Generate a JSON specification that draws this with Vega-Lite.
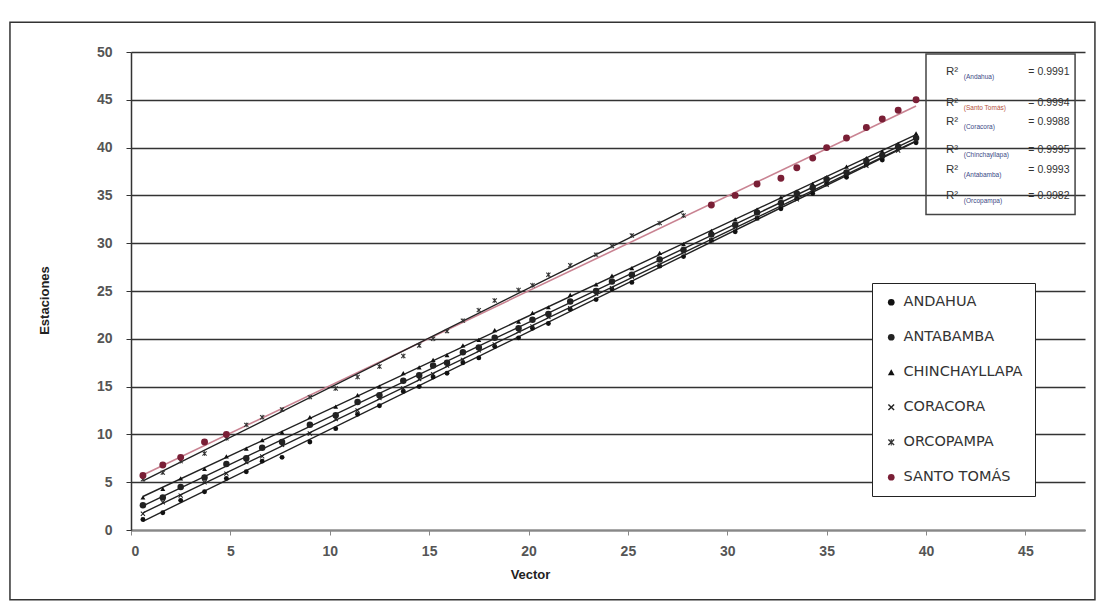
{
  "$schema": "https://vega.github.io/schema/vega-lite/v6.json",
  "width": 954,
  "height": 478,
  "autosize": {"type": "none"},
  "padding": {"left": 131, "top": 52, "right": 14, "bottom": 73},
  "background": "white",
  "config": {
    "font": "Liberation Sans",
    "view": {"stroke": null},
    "legend": {
      "orient": "none",
      "legendX": 741,
      "legendY": 231,
      "fillColor": "white",
      "strokeColor": "#222",
      "padding": 12,
      "rowPadding": 20,
      "labelFont": "DejaVu Sans",
      "labelFontSize": 14.5,
      "labelColor": "#333",
      "symbolSize": 45,
      "symbolOffset": 0,
      "labelOffset": 5,
      "symbolStrokeWidth": 0
    }
  },
  "datasets": {
    "pts": [
      {"series": "ANDAHUA", "x": 0.6, "y": 1.1}, {"series": "ANDAHUA", "x": 1.6, "y": 1.8}, {"series": "ANDAHUA", "x": 2.5, "y": 3.1}, {"series": "ANDAHUA", "x": 3.7, "y": 4.0}, {"series": "ANDAHUA", "x": 4.8, "y": 5.4}, {"series": "ANDAHUA", "x": 5.8, "y": 6.1}, {"series": "ANDAHUA", "x": 6.6, "y": 7.2}, {"series": "ANDAHUA", "x": 7.6, "y": 7.6}, {"series": "ANDAHUA", "x": 9.0, "y": 9.2}, {"series": "ANDAHUA", "x": 10.3, "y": 10.6},
      {"series": "ANDAHUA", "x": 11.4, "y": 12.1}, {"series": "ANDAHUA", "x": 12.5, "y": 13.0}, {"series": "ANDAHUA", "x": 13.7, "y": 14.5}, {"series": "ANDAHUA", "x": 14.5, "y": 15.0}, {"series": "ANDAHUA", "x": 15.2, "y": 16.0}, {"series": "ANDAHUA", "x": 15.9, "y": 16.4}, {"series": "ANDAHUA", "x": 16.7, "y": 17.5}, {"series": "ANDAHUA", "x": 17.5, "y": 18.0}, {"series": "ANDAHUA", "x": 18.3, "y": 19.2}, {"series": "ANDAHUA", "x": 19.5, "y": 20.1},
      {"series": "ANDAHUA", "x": 20.2, "y": 21.1}, {"series": "ANDAHUA", "x": 21.0, "y": 21.6}, {"series": "ANDAHUA", "x": 22.1, "y": 23.1}, {"series": "ANDAHUA", "x": 23.4, "y": 24.1}, {"series": "ANDAHUA", "x": 24.2, "y": 25.2}, {"series": "ANDAHUA", "x": 25.2, "y": 25.9}, {"series": "ANDAHUA", "x": 26.6, "y": 27.6}, {"series": "ANDAHUA", "x": 27.8, "y": 28.6}, {"series": "ANDAHUA", "x": 29.2, "y": 30.3}, {"series": "ANDAHUA", "x": 30.4, "y": 31.2},
      {"series": "ANDAHUA", "x": 31.5, "y": 32.6}, {"series": "ANDAHUA", "x": 32.7, "y": 33.6}, {"series": "ANDAHUA", "x": 33.5, "y": 34.7}, {"series": "ANDAHUA", "x": 34.3, "y": 35.2}, {"series": "ANDAHUA", "x": 35.0, "y": 36.2}, {"series": "ANDAHUA", "x": 36.0, "y": 36.9}, {"series": "ANDAHUA", "x": 37.0, "y": 38.2}, {"series": "ANDAHUA", "x": 37.8, "y": 38.7}, {"series": "ANDAHUA", "x": 38.6, "y": 39.9}, {"series": "ANDAHUA", "x": 39.5, "y": 40.5},

      {"series": "ANTABAMBA", "x": 0.6, "y": 2.6}, {"series": "ANTABAMBA", "x": 1.6, "y": 3.4}, {"series": "ANTABAMBA", "x": 2.5, "y": 4.5}, {"series": "ANTABAMBA", "x": 3.7, "y": 5.5}, {"series": "ANTABAMBA", "x": 4.8, "y": 6.9}, {"series": "ANTABAMBA", "x": 5.8, "y": 7.5}, {"series": "ANTABAMBA", "x": 6.6, "y": 8.6}, {"series": "ANTABAMBA", "x": 7.6, "y": 9.2}, {"series": "ANTABAMBA", "x": 9.0, "y": 11.0}, {"series": "ANTABAMBA", "x": 10.3, "y": 12.0},
      {"series": "ANTABAMBA", "x": 11.4, "y": 13.4}, {"series": "ANTABAMBA", "x": 12.5, "y": 14.1}, {"series": "ANTABAMBA", "x": 13.7, "y": 15.6}, {"series": "ANTABAMBA", "x": 14.5, "y": 16.2}, {"series": "ANTABAMBA", "x": 15.2, "y": 17.2}, {"series": "ANTABAMBA", "x": 15.9, "y": 17.5}, {"series": "ANTABAMBA", "x": 16.7, "y": 18.6}, {"series": "ANTABAMBA", "x": 17.5, "y": 19.1}, {"series": "ANTABAMBA", "x": 18.3, "y": 20.1}, {"series": "ANTABAMBA", "x": 19.5, "y": 21.1},
      {"series": "ANTABAMBA", "x": 20.2, "y": 22.0}, {"series": "ANTABAMBA", "x": 21.0, "y": 22.6}, {"series": "ANTABAMBA", "x": 22.1, "y": 23.9}, {"series": "ANTABAMBA", "x": 23.4, "y": 25.0}, {"series": "ANTABAMBA", "x": 24.2, "y": 26.0}, {"series": "ANTABAMBA", "x": 25.2, "y": 26.7}, {"series": "ANTABAMBA", "x": 26.6, "y": 28.3}, {"series": "ANTABAMBA", "x": 27.8, "y": 29.3}, {"series": "ANTABAMBA", "x": 29.2, "y": 30.9}, {"series": "ANTABAMBA", "x": 30.4, "y": 31.9},
      {"series": "ANTABAMBA", "x": 31.5, "y": 33.2}, {"series": "ANTABAMBA", "x": 32.7, "y": 34.2}, {"series": "ANTABAMBA", "x": 33.5, "y": 35.2}, {"series": "ANTABAMBA", "x": 34.3, "y": 35.8}, {"series": "ANTABAMBA", "x": 35.0, "y": 36.7}, {"series": "ANTABAMBA", "x": 36.0, "y": 37.4}, {"series": "ANTABAMBA", "x": 37.0, "y": 38.6}, {"series": "ANTABAMBA", "x": 37.8, "y": 39.2}, {"series": "ANTABAMBA", "x": 38.6, "y": 40.1}, {"series": "ANTABAMBA", "x": 39.5, "y": 41.0},

      {"series": "CHINCHAYLLAPA", "x": 0.6, "y": 3.4}, {"series": "CHINCHAYLLAPA", "x": 1.6, "y": 4.3}, {"series": "CHINCHAYLLAPA", "x": 2.5, "y": 5.4}, {"series": "CHINCHAYLLAPA", "x": 3.7, "y": 6.4}, {"series": "CHINCHAYLLAPA", "x": 4.8, "y": 7.7}, {"series": "CHINCHAYLLAPA", "x": 5.8, "y": 8.5}, {"series": "CHINCHAYLLAPA", "x": 6.6, "y": 9.4}, {"series": "CHINCHAYLLAPA", "x": 7.6, "y": 10.2}, {"series": "CHINCHAYLLAPA", "x": 9.0, "y": 11.8}, {"series": "CHINCHAYLLAPA", "x": 10.3, "y": 12.9},
      {"series": "CHINCHAYLLAPA", "x": 11.4, "y": 14.1}, {"series": "CHINCHAYLLAPA", "x": 12.5, "y": 15.0}, {"series": "CHINCHAYLLAPA", "x": 13.7, "y": 16.4}, {"series": "CHINCHAYLLAPA", "x": 14.5, "y": 17.0}, {"series": "CHINCHAYLLAPA", "x": 15.2, "y": 17.8}, {"series": "CHINCHAYLLAPA", "x": 15.9, "y": 18.3}, {"series": "CHINCHAYLLAPA", "x": 16.7, "y": 19.3}, {"series": "CHINCHAYLLAPA", "x": 17.5, "y": 19.9}, {"series": "CHINCHAYLLAPA", "x": 18.3, "y": 20.9}, {"series": "CHINCHAYLLAPA", "x": 19.5, "y": 21.8},
      {"series": "CHINCHAYLLAPA", "x": 20.2, "y": 22.7}, {"series": "CHINCHAYLLAPA", "x": 21.0, "y": 23.3}, {"series": "CHINCHAYLLAPA", "x": 22.1, "y": 24.6}, {"series": "CHINCHAYLLAPA", "x": 23.4, "y": 25.7}, {"series": "CHINCHAYLLAPA", "x": 24.2, "y": 26.6}, {"series": "CHINCHAYLLAPA", "x": 25.2, "y": 27.4}, {"series": "CHINCHAYLLAPA", "x": 26.6, "y": 29.0}, {"series": "CHINCHAYLLAPA", "x": 27.8, "y": 29.9}, {"series": "CHINCHAYLLAPA", "x": 29.2, "y": 31.3}, {"series": "CHINCHAYLLAPA", "x": 30.4, "y": 32.5},
      {"series": "CHINCHAYLLAPA", "x": 31.5, "y": 33.5}, {"series": "CHINCHAYLLAPA", "x": 32.7, "y": 34.8}, {"series": "CHINCHAYLLAPA", "x": 33.5, "y": 35.4}, {"series": "CHINCHAYLLAPA", "x": 34.3, "y": 36.2}, {"series": "CHINCHAYLLAPA", "x": 35.0, "y": 36.9}, {"series": "CHINCHAYLLAPA", "x": 36.0, "y": 38.0}, {"series": "CHINCHAYLLAPA", "x": 37.0, "y": 38.9}, {"series": "CHINCHAYLLAPA", "x": 37.8, "y": 39.6}, {"series": "CHINCHAYLLAPA", "x": 38.6, "y": 40.4}, {"series": "CHINCHAYLLAPA", "x": 39.5, "y": 41.5},

      {"series": "CORACORA", "x": 0.6, "y": 1.7}, {"series": "CORACORA", "x": 1.6, "y": 2.9}, {"series": "CORACORA", "x": 2.5, "y": 3.6}, {"series": "CORACORA", "x": 3.7, "y": 5.0}, {"series": "CORACORA", "x": 4.8, "y": 5.9}, {"series": "CORACORA", "x": 5.8, "y": 7.1}, {"series": "CORACORA", "x": 6.6, "y": 7.7}, {"series": "CORACORA", "x": 7.6, "y": 8.9}, {"series": "CORACORA", "x": 9.0, "y": 10.1}, {"series": "CORACORA", "x": 10.3, "y": 11.6},
      {"series": "CORACORA", "x": 11.4, "y": 12.5}, {"series": "CORACORA", "x": 12.5, "y": 13.8}, {"series": "CORACORA", "x": 13.7, "y": 14.8}, {"series": "CORACORA", "x": 14.5, "y": 15.8}, {"series": "CORACORA", "x": 15.2, "y": 16.3}, {"series": "CORACORA", "x": 15.9, "y": 17.2}, {"series": "CORACORA", "x": 16.7, "y": 17.8}, {"series": "CORACORA", "x": 17.5, "y": 18.8}, {"series": "CORACORA", "x": 18.3, "y": 19.4}, {"series": "CORACORA", "x": 19.5, "y": 20.8},
      {"series": "CORACORA", "x": 20.2, "y": 21.3}, {"series": "CORACORA", "x": 21.0, "y": 22.3}, {"series": "CORACORA", "x": 22.1, "y": 23.2}, {"series": "CORACORA", "x": 23.4, "y": 24.7}, {"series": "CORACORA", "x": 24.2, "y": 25.3}, {"series": "CORACORA", "x": 25.2, "y": 26.5}, {"series": "CORACORA", "x": 26.6, "y": 27.7}, {"series": "CORACORA", "x": 27.8, "y": 29.1}, {"series": "CORACORA", "x": 29.2, "y": 30.3}, {"series": "CORACORA", "x": 30.4, "y": 31.7},
      {"series": "CORACORA", "x": 31.5, "y": 32.6}, {"series": "CORACORA", "x": 32.7, "y": 34.0}, {"series": "CORACORA", "x": 33.5, "y": 34.6}, {"series": "CORACORA", "x": 34.3, "y": 35.6}, {"series": "CORACORA", "x": 35.0, "y": 36.1}, {"series": "CORACORA", "x": 36.0, "y": 37.3}, {"series": "CORACORA", "x": 37.0, "y": 38.1}, {"series": "CORACORA", "x": 37.8, "y": 39.1}, {"series": "CORACORA", "x": 38.6, "y": 39.7}, {"series": "CORACORA", "x": 39.5, "y": 40.8},

      {"series": "ORCOPAMPA", "x": 0.6, "y": 5.3}, {"series": "ORCOPAMPA", "x": 1.6, "y": 6.0}, {"series": "ORCOPAMPA", "x": 2.5, "y": 7.2}, {"series": "ORCOPAMPA", "x": 3.7, "y": 8.0}, {"series": "ORCOPAMPA", "x": 4.8, "y": 9.6},
      {"series": "ORCOPAMPA", "x": 5.8, "y": 11.0}, {"series": "ORCOPAMPA", "x": 6.6, "y": 11.8}, {"series": "ORCOPAMPA", "x": 7.6, "y": 12.6}, {"series": "ORCOPAMPA", "x": 9.0, "y": 13.9}, {"series": "ORCOPAMPA", "x": 10.3, "y": 14.8}, {"series": "ORCOPAMPA", "x": 11.4, "y": 16.0}, {"series": "ORCOPAMPA", "x": 12.5, "y": 17.1}, {"series": "ORCOPAMPA", "x": 13.7, "y": 18.2}, {"series": "ORCOPAMPA", "x": 14.5, "y": 19.3}, {"series": "ORCOPAMPA", "x": 15.2, "y": 20.0},
      {"series": "ORCOPAMPA", "x": 15.9, "y": 20.8}, {"series": "ORCOPAMPA", "x": 16.7, "y": 21.9}, {"series": "ORCOPAMPA", "x": 17.5, "y": 23.0}, {"series": "ORCOPAMPA", "x": 18.3, "y": 24.0}, {"series": "ORCOPAMPA", "x": 19.5, "y": 25.1}, {"series": "ORCOPAMPA", "x": 20.2, "y": 25.6}, {"series": "ORCOPAMPA", "x": 21.0, "y": 26.7}, {"series": "ORCOPAMPA", "x": 22.1, "y": 27.7}, {"series": "ORCOPAMPA", "x": 23.4, "y": 28.8}, {"series": "ORCOPAMPA", "x": 24.2, "y": 29.7},
      {"series": "ORCOPAMPA", "x": 25.2, "y": 30.8}, {"series": "ORCOPAMPA", "x": 26.6, "y": 32.1}, {"series": "ORCOPAMPA", "x": 27.8, "y": 32.9},

      {"series": "SANTO TOMÁS", "x": 0.6, "y": 5.7}, {"series": "SANTO TOMÁS", "x": 1.6, "y": 6.8}, {"series": "SANTO TOMÁS", "x": 2.5, "y": 7.6}, {"series": "SANTO TOMÁS", "x": 3.7, "y": 9.2}, {"series": "SANTO TOMÁS", "x": 4.8, "y": 10.0}, {"series": "SANTO TOMÁS", "x": 29.2, "y": 34.0}, {"series": "SANTO TOMÁS", "x": 30.4, "y": 35.0}, {"series": "SANTO TOMÁS", "x": 31.5, "y": 36.2}, {"series": "SANTO TOMÁS", "x": 32.7, "y": 36.8}, {"series": "SANTO TOMÁS", "x": 33.5, "y": 37.9},
      {"series": "SANTO TOMÁS", "x": 34.3, "y": 38.9}, {"series": "SANTO TOMÁS", "x": 35.0, "y": 40.0}, {"series": "SANTO TOMÁS", "x": 36.0, "y": 41.0}, {"series": "SANTO TOMÁS", "x": 37.0, "y": 42.1}, {"series": "SANTO TOMÁS", "x": 37.8, "y": 43.0}, {"series": "SANTO TOMÁS", "x": 38.6, "y": 43.9}, {"series": "SANTO TOMÁS", "x": 39.5, "y": 45.0}
    ],
    "r2": [
      {"station": "(Andahua)", "value": "= 0.9991", "y": 47.9},
      {"station": "(Santo Tomás)", "value": "= 0.9994", "y": 44.7},
      {"station": "(Coracora)", "value": "= 0.9988", "y": 42.7},
      {"station": "(Chinchayllapa)", "value": "= 0.9995", "y": 39.7},
      {"station": "(Antabamba)", "value": "= 0.9993", "y": 37.7},
      {"station": "(Orcopampa)", "value": "= 0.9982", "y": 34.9}
    ],
    "one": [{}]
  },
  "layer": [
    {
      "data": {"name": "one"},
      "mark": {"type": "rect", "fill": null, "stroke": "#333", "strokeWidth": 1.5, "clip": false},
      "encoding": {
        "x": {"datum": -6.09, "type": "quantitative"},
        "x2": {"datum": 48.5},
        "y": {"datum": 53.1, "type": "quantitative"},
        "y2": {"datum": -7.3}
      }
    },
    {
      "data": {"name": "one"},
      "mark": {"type": "rect", "fill": null, "stroke": "#444", "strokeWidth": 1.5, "clip": false},
      "encoding": {
        "x": {"datum": 40.0, "type": "quantitative"},
        "x2": {"datum": 47.5},
        "y": {"datum": 49.8, "type": "quantitative"},
        "y2": {"datum": 33.0}
      }
    },
    {
      "data": {"name": "pts"},
      "transform": [
        {"filter": "datum.series === 'SANTO TOMÁS'"},
        {"regression": "y", "on": "x"}
      ],
      "mark": {"type": "line", "color": "#c98392", "strokeWidth": 1.6},
      "encoding": {
        "x": {"field": "x", "type": "quantitative"},
        "y": {"field": "y", "type": "quantitative"}
      }
    },
    {
      "data": {"name": "pts"},
      "transform": [
        {"filter": "datum.series !== 'SANTO TOMÁS'"},
        {"regression": "y", "on": "x", "groupby": ["series"]}
      ],
      "mark": {"type": "line", "color": "#222", "strokeWidth": 1.4},
      "encoding": {
        "x": {"field": "x", "type": "quantitative"},
        "y": {"field": "y", "type": "quantitative"},
        "detail": {"field": "series", "type": "nominal"}
      }
    },
    {
      "data": {"name": "pts"},
      "transform": [{"filter": "datum.series !== 'ANTABAMBA' && datum.series !== 'SANTO TOMÁS'"}],
      "mark": {"type": "point", "filled": true, "opacity": 1, "strokeWidth": 0, "size": 24},
      "encoding": {
        "x": {
          "field": "x",
          "type": "quantitative",
          "scale": {"domain": [0, 48], "nice": false, "zero": false},
          "axis": {
            "values": [0, 5, 10, 15, 20, 25, 30, 35, 40, 45],
            "grid": false,
            "domainColor": "#888",
            "domainWidth": 2,
            "tickColor": "#888",
            "tickSize": 5,
            "labelPadding": 9,
            "labelFontSize": 14,
            "labelFontWeight": "bold",
            "labelColor": "#555",
            "title": "Vector",
            "titleFontSize": 13,
            "titleFontWeight": "bold",
            "titleColor": "#222",
            "titleX": 399,
            "titleY": 38
          }
        },
        "y": {
          "field": "y",
          "type": "quantitative",
          "scale": {"domain": [0, 50], "nice": false, "zero": false},
          "axis": {
            "values": [0, 5, 10, 15, 20, 25, 30, 35, 40, 45, 50],
            "grid": true,
            "gridColor": "#333",
            "gridWidth": 1.4,
            "domainColor": "#333",
            "domainWidth": 1.5,
            "tickColor": "#333",
            "tickSize": 5,
            "labelPadding": 14,
            "labelFontSize": 14,
            "labelFontWeight": "bold",
            "labelColor": "#555",
            "title": "Estaciones",
            "titleFontSize": 13,
            "titleFontWeight": "bold",
            "titleColor": "#222",
            "titleX": -80,
            "titleY": 248
          }
        },
        "fill": {
          "field": "series",
          "type": "nominal",
          "scale": {
            "domain": ["ANDAHUA", "ANTABAMBA", "CHINCHAYLLAPA", "CORACORA", "ORCOPAMPA", "SANTO TOMÁS"],
            "range": ["#111", "#222", "#111", "#222", "#333", "#7a1f36"]
          },
          "legend": {"title": null}
        },
        "shape": {
          "field": "series",
          "type": "nominal",
          "scale": {
            "domain": ["ANDAHUA", "ANTABAMBA", "CHINCHAYLLAPA", "CORACORA", "ORCOPAMPA", "SANTO TOMÁS"],
            "range": [
              "circle",
              "circle",
              "triangle-up",
              "M-1,-0.7L-0.7,-1L0,-0.3L0.7,-1L1,-0.7L0.3,0L1,0.7L0.7,1L0,0.3L-0.7,1L-1,0.7L-0.3,0Z",
              "M-1,-0.7L-0.7,-1L0,-0.3L0.7,-1L1,-0.7L0.3,0L1,0.7L0.7,1L0,0.3L-0.7,1L-1,0.7L-0.3,0ZM-0.15,-1L0.15,-1L0.15,1L-0.15,1Z",
              "circle"
            ]
          },
          "legend": {"title": null}
        }
      }
    },
    {
      "data": {"name": "pts"},
      "transform": [{"filter": "datum.series === 'ANTABAMBA'"}],
      "mark": {"type": "point", "filled": true, "opacity": 1, "strokeWidth": 0, "size": 42},
      "encoding": {
        "x": {"field": "x", "type": "quantitative"},
        "y": {"field": "y", "type": "quantitative"},
        "fill": {"field": "series", "type": "nominal", "legend": {"title": null}},
        "shape": {"field": "series", "type": "nominal", "legend": {"title": null}}
      }
    },
    {
      "data": {"name": "pts"},
      "transform": [{"filter": "datum.series === 'SANTO TOMÁS'"}],
      "mark": {"type": "point", "filled": true, "opacity": 1, "strokeWidth": 0, "size": 48},
      "encoding": {
        "x": {"field": "x", "type": "quantitative"},
        "y": {"field": "y", "type": "quantitative"},
        "fill": {"field": "series", "type": "nominal", "legend": {"title": null}},
        "shape": {"field": "series", "type": "nominal", "legend": {"title": null}}
      }
    },
    {
      "data": {"name": "r2"},
      "mark": {"type": "text", "text": "R²", "align": "left", "baseline": "middle", "fontSize": 11.5, "color": "#333"},
      "encoding": {
        "x": {"datum": 41.0, "type": "quantitative"},
        "y": {"field": "y", "type": "quantitative"}
      }
    },
    {
      "data": {"name": "r2"},
      "mark": {"type": "text", "align": "left", "baseline": "middle", "fontSize": 6.5, "dy": 5},
      "encoding": {
        "x": {"datum": 41.9, "type": "quantitative"},
        "y": {"field": "y", "type": "quantitative"},
        "text": {"field": "station"},
        "color": {
          "condition": {"test": "datum.station === '(Santo Tomás)'", "value": "#b5523e"},
          "value": "#3b4a86"
        }
      }
    },
    {
      "data": {"name": "r2"},
      "mark": {"type": "text", "align": "left", "baseline": "middle", "fontSize": 10.5, "color": "#333"},
      "encoding": {
        "x": {"datum": 45.15, "type": "quantitative"},
        "y": {"field": "y", "type": "quantitative"},
        "text": {"field": "value"}
      }
    }
  ]
}
